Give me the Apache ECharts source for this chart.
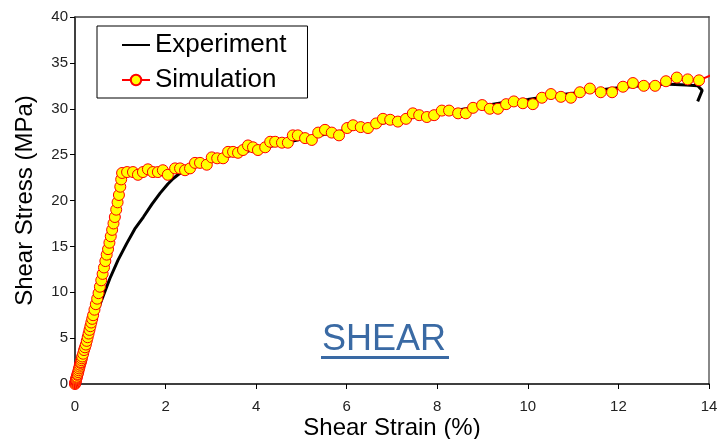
<!DOCTYPE html>
<html>
<head>
<meta charset="utf-8">
<script src="https://cdn.jsdelivr.net/npm/echarts@6/dist/echarts.min.js"></script>
<style>
  html, body { margin: 0; padding: 0; background: #fff; }
  #main { width: 721px; height: 439px; }
</style>
</head>
<body>
<div id="main"></div>
<script>
// values
const simStrain = [
  0, 0.005, 0.01, 0.015, 0.02, 0.025, 0.03, 0.035, 0.04, 0.05, 0.06, 0.07, 0.08, 0.09, 0.10,
  0.11, 0.12, 0.13, 0.14, 0.15, 0.16, 0.18, 0.20, 0.22, 0.24, 0.26, 0.28, 0.30, 0.32, 0.34,
  0.36, 0.38, 0.40, 0.43, 0.46, 0.49, 0.52, 0.55, 0.58, 0.61, 0.64, 0.67, 0.70, 0.73, 0.76,
  0.79, 0.82, 0.85, 0.88, 0.91, 0.94, 0.97, 1.00, 1.02,
  1.04, 1.15, 1.28, 1.39, 1.50, 1.61, 1.72, 1.83, 1.94, 2.05, 2.21, 2.32, 2.43, 2.54, 2.65,
  2.76, 2.91, 3.02, 3.14, 3.27, 3.38, 3.49, 3.60, 3.71, 3.82, 3.93, 4.04, 4.20, 4.31, 4.42,
  4.57, 4.70, 4.81, 4.92, 5.08, 5.23, 5.37, 5.52, 5.67, 5.83, 6.01, 6.14, 6.31, 6.47, 6.65,
  6.80, 6.96, 7.13, 7.31, 7.46, 7.60, 7.77, 7.93, 8.10, 8.26, 8.46, 8.63, 8.79, 8.99, 9.16,
  9.34, 9.52, 9.69, 9.89, 10.11, 10.31, 10.51, 10.73, 10.95, 11.15, 11.37, 11.61, 11.86, 12.10,
  12.32, 12.56, 12.81, 13.05, 13.29, 13.53, 13.78, 14.11
];
const simStress = [
  0, 0.1, 0.2, 0.3, 0.4, 0.5, 0.6, 0.7, 0.8, 1.0, 1.1, 1.3, 1.5, 1.7, 1.9,
  2.1, 2.3, 2.4, 2.6, 2.8, 3.0, 3.3, 3.7, 4.0, 4.3, 4.7, 5.1, 5.5, 5.9, 6.3,
  6.7, 7.1, 7.5, 8.1, 8.7, 9.3, 9.9, 10.6, 11.3, 12.0, 12.7, 13.4, 14.1, 14.7, 15.4,
  16.1, 16.8, 17.5, 18.2, 19.0, 19.8, 20.6, 21.5, 22.3,
  23.0, 23.1, 23.1, 22.8, 23.1, 23.4, 23.1, 23.1, 23.3, 22.8, 23.5, 23.5, 23.3, 23.5, 24.1,
  24.1, 23.9, 24.7, 24.6, 24.6, 25.3, 25.3, 25.2, 25.5, 26.0, 25.8, 25.5, 25.8, 26.4, 26.4,
  26.3, 26.3, 27.1, 27.1, 26.8, 26.6, 27.4, 27.7, 27.4, 27.1, 27.9, 28.2, 28.0, 27.9, 28.4,
  28.9, 28.8, 28.6, 28.9, 29.5, 29.3, 29.1, 29.3, 29.8, 29.8, 29.5, 29.5, 30.1, 30.4, 30.0,
  30.0, 30.5, 30.8, 30.6, 30.5, 31.2, 31.6, 31.3, 31.2, 31.8, 32.2, 31.8, 31.8, 32.4,
  32.8, 32.5, 32.5, 33.0, 33.4, 33.2, 33.1, 33.8
];
const expStrain = [
  0, 0.05, 0.10, 0.20, 0.30, 0.45, 0.60, 0.77, 0.95, 1.14, 1.32, 1.51, 1.70, 1.88, 2.05,
  2.17, 2.40, 2.80, 3.20, 3.60, 4.00, 4.40, 5.00, 5.50, 6.00, 6.50, 7.00, 7.50, 8.00, 8.50,
  9.00, 9.50, 10.00, 10.50, 11.00, 11.50, 12.00, 12.50, 13.00, 13.50, 13.75, 13.85, 13.75
];
const expStress = [
  0, 1.2, 2.3, 4.2, 5.6, 7.4, 9.3, 11.5, 13.5, 15.3, 16.9, 18.2, 19.6, 20.8, 21.8,
  22.4, 23.3, 24.0, 24.6, 25.1, 25.6, 26.0, 26.7, 27.2, 27.7, 28.2, 28.6, 29.1, 29.5, 29.9,
  30.3, 30.7, 31.0, 31.4, 31.7, 32.0, 32.3, 32.5, 32.7, 32.6, 32.5, 32.0, 30.8
];
const seriesNames = ['Experiment', 'Simulation'];
const xTitle = 'Shear Strain (%)';
const yTitle = 'Shear Stress (MPa)';
const label = 'SHEAR';

const font = "'Liberation Sans', Arial, sans-serif";
const pairs = (xs, ys) => xs.map((x, i) => [x, ys[i]]);

const chart = echarts.init(document.getElementById('main'));
chart.setOption({
  animation: false,
  backgroundColor: '#fff',
  textStyle: { fontFamily: font },
  grid: { left: 75, right: 12, top: 17, bottom: 55, containLabel: false, outerBoundsMode: 'none' },
  legend: {
    orient: 'vertical',
    left: 97,
    top: 26,
    data: [
      { name: seriesNames[0], itemStyle: { opacity: 0 } },
      { name: seriesNames[1] }
    ],
    backgroundColor: '#fff',
    borderColor: '#000',
    borderWidth: 1,
    borderRadius: 0,
    padding: [6, 21, 5, 24],
    itemGap: 9,
    itemWidth: 28,
    itemHeight: 13,
    textStyle: { fontSize: 26, color: '#000', fontFamily: font }
  },
  xAxis: [{
    type: 'value',
    min: 0, max: 14, interval: 2,
    name: xTitle,
    nameLocation: 'middle',
    nameGap: 32,
    nameMoveOverlap: false,
    nameTextStyle: { fontSize: 24, color: '#000', fontFamily: font },
    axisLine: { show: true, onZero: false, lineStyle: { color: '#000', width: 1.5 } },
    axisTick: { show: true, inside: false, length: 5, lineStyle: { color: '#000' } },
    axisLabel: { fontSize: 15, color: '#222', margin: 15, fontFamily: font },
    splitLine: { show: false }
  }, {
    type: 'value',
    position: 'top',
    min: 0, max: 14,
    axisLine: { show: true, onZero: false, lineStyle: { color: '#444', width: 1.5 } },
    axisTick: { show: false },
    axisLabel: { show: false },
    splitLine: { show: false }
  }],
  yAxis: [{
    type: 'value',
    min: 0, max: 40, interval: 5,
    name: yTitle,
    nameLocation: 'middle',
    nameGap: 38,
    nameTextStyle: { fontSize: 24, color: '#000', fontFamily: font },
    axisLine: { show: true, onZero: false, lineStyle: { color: '#000', width: 1.5 } },
    axisTick: { show: true, inside: false, length: 5, lineStyle: { color: '#000' } },
    axisLabel: { fontSize: 15, color: '#222', margin: 7, fontFamily: font },
    splitLine: { show: false }
  }, {
    type: 'value',
    position: 'right',
    min: 0, max: 40,
    axisLine: { show: true, onZero: false, lineStyle: { color: '#888', width: 2 } },
    axisTick: { show: false },
    axisLabel: { show: false },
    splitLine: { show: false }
  }],
  series: [{
    name: seriesNames[0],
    type: 'line',
    xAxisIndex: 0, yAxisIndex: 0,
    data: pairs(expStrain, expStress),
    showSymbol: false,
    symbol: 'none',
    lineStyle: { color: '#000', width: 3 },
    itemStyle: { color: '#000' },
    z: 2
  }, {
    name: seriesNames[1],
    type: 'line',
    xAxisIndex: 0, yAxisIndex: 0,
    data: pairs(simStrain, simStress),
    symbol: 'circle',
    symbolSize: 11,
    showSymbol: true,
    clip: true,
    lineStyle: { color: '#ff0000', width: 2 },
    itemStyle: { color: '#ffff00', borderColor: '#ff0000', borderWidth: 1 },
    z: 3
  }],
  graphic: [{
    type: 'text',
    left: 322,
    top: 322,
    style: { text: label, fontSize: 36, fill: '#3a6aa4', fontFamily: font }
  }, {
    type: 'rect',
    left: 321,
    top: 356,
    shape: { width: 128, height: 3 },
    style: { fill: '#3a6aa4' }
  }]
});
</script>
</body>
</html>
